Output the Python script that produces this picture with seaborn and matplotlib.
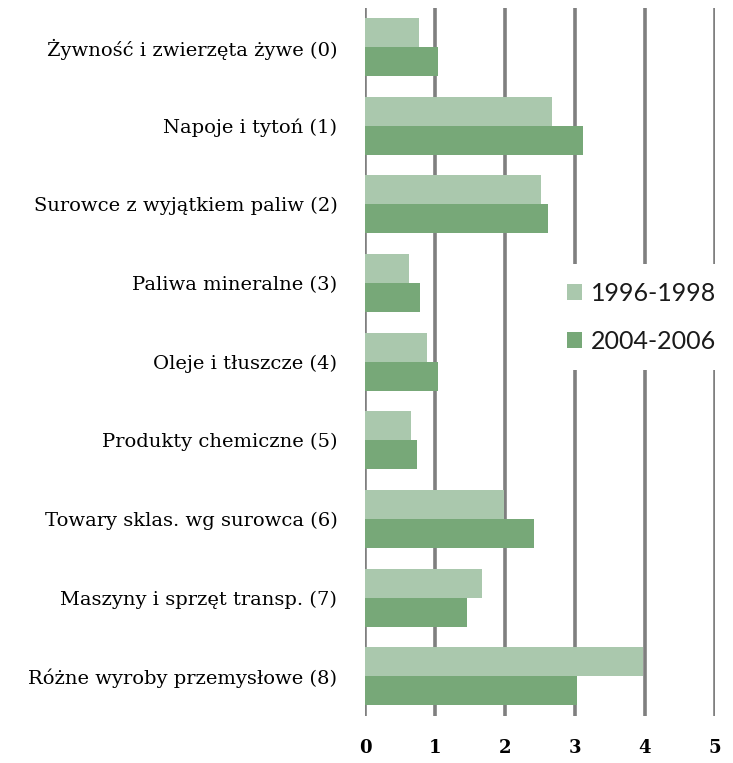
import pandas as pd
import numpy as np
import seaborn as sns
import matplotlib.pyplot as plt

# categories (top to bottom) and values
categories = [
    "Żywność i zwierzęta żywe (0)",
    "Napoje i tytoń (1)",
    "Surowce z wyjątkiem paliw (2)",
    "Paliwa mineralne (3)",
    "Oleje i tłuszcze (4)",
    "Produkty chemiczne (5)",
    "Towary sklas. wg surowca (6)",
    "Maszyny i sprzęt transp. (7)",
    "Różne wyroby przemysłowe (8)",
]
values_1996_1998 = [0.77, 2.67, 2.52, 0.63, 0.89, 0.66, 1.99, 1.67, 3.98]
values_2004_2006 = [1.05, 3.12, 2.61, 0.79, 1.04, 0.75, 2.41, 1.46, 3.03]
periods = ["1996-1998", "2004-2006"]
colors = ["#aac8ad", "#77a878"]

df = pd.DataFrame({
    "category": categories * 2,
    "value": values_1996_1998 + values_2004_2006,
    "period": [periods[0]] * len(categories) + [periods[1]] * len(categories),
})

sns.set_style("white")
plt.rcParams["font.family"] = ["DejaVu Serif"]

fig = plt.figure(figsize=(7.33, 7.63), dpi=100)
ax = fig.add_axes([0.498, 0.062, 0.477, 0.928])

sns.barplot(data=df, y="category", x="value", hue="period", palette=colors,
            orient="h", width=0.74, saturation=1, linewidth=0, ax=ax, zorder=3)

# vertical gray gridlines
ax.set_xlim(0, 5)
ax.set_xticks(range(6))
for x in range(6):
    ax.axvline(x, color="#7f7f7f", lw=2.6, zorder=1)

ax.set_xlabel("")
ax.set_ylabel("")
for s in ax.spines.values():
    s.set_visible(False)
ax.tick_params(axis="y", length=0, pad=20, labelsize=14, labelcolor="black")
ax.tick_params(axis="x", length=0, pad=17, labelsize=13, labelcolor="black")
for lbl in ax.get_xticklabels():
    lbl.set_fontweight("bold")

# legend box sits on top of the gridlines, right edge at the figure edge
leg = ax.legend(loc="center right", bbox_to_anchor=(1.055, 0.563), frameon=True,
                fancybox=False, edgecolor="none", facecolor="white", framealpha=1,
                prop={"family": "Lato", "size": 18},
                handlelength=0.6, handleheight=0.6, handletextpad=0.35,
                labelspacing=1.0, borderpad=0.7, borderaxespad=0.0)
leg.set_zorder(5)
for t in leg.get_texts():
    t.set_color("#1a1a1a")

fig.savefig("out.png", dpi=100)
